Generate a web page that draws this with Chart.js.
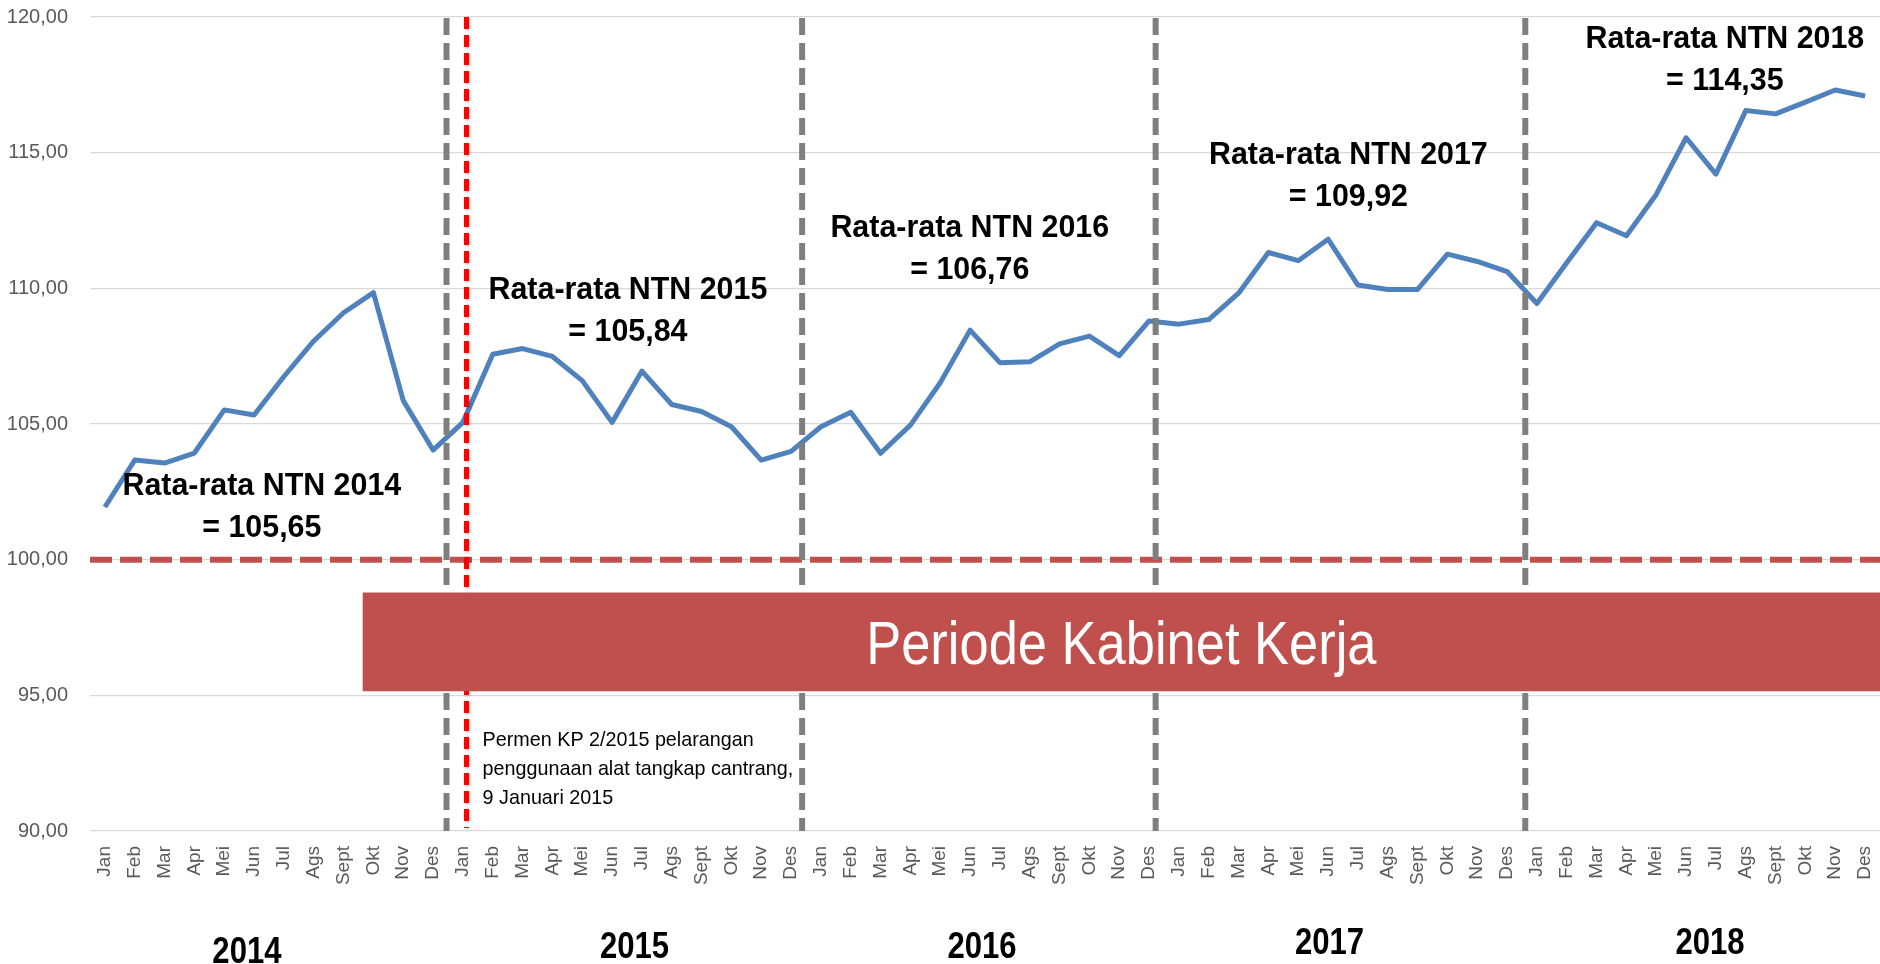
<!DOCTYPE html>
<html>
<head>
<meta charset="utf-8">
<script src="https://cdn.jsdelivr.net/npm/chart.js@4.4.1/dist/chart.umd.min.js"></script>
<style>
    body { margin: 0; background: #fff; }
    #wrap { width: 1880px; height: 964px; position: relative; }
</style>
</head>
<body>
<div id="wrap"><canvas id="ntnChart"></canvas></div>
<script>
// bulan (sumbu x) dan nilai NTN per tahun
var bulan = ["Jan", "Feb", "Mar", "Apr", "Mei", "Jun", "Jul", "Ags", "Sept", "Okt", "Nov", "Des"];
var tahun = ["2014", "2015", "2016", "2017", "2018"];

var ntn2014 = [101.94, 103.67, 103.56, 103.93, 105.52, 105.33, 106.75, 108.06, 109.10, 109.84, 105.86, 104.04];
var ntn2015 = [105.06, 107.57, 107.78, 107.49, 106.60, 105.06, 106.95, 105.72, 105.46, 104.90, 103.67, 103.99];
var ntn2016 = [104.90, 105.43, 103.92, 104.96, 106.52, 108.46, 107.26, 107.29, 107.95, 108.24, 107.52, 108.80];
var ntn2017 = [108.68, 108.85, 109.82, 111.32, 111.02, 111.81, 110.12, 109.96, 109.96, 111.26, 110.99, 110.62];
var ntn2018 = [109.44, 110.94, 112.42, 111.94, 113.46, 115.55, 114.21, 116.55, 116.43, 116.86, 117.31, 117.09];

var rataRata = ["105,65", "105,84", "106,76", "109,92", "114,35"];

var yTicks = { min: 90, max: 120, step: 5 };
var garisAcuan = 100;
var labelPeriode = "Periode Kabinet Kerja";
var catatanPermen = ["Permen KP 2/2015 pelarangan", "penggunaan alat tangkap cantrang,", "9 Januari 2015"];

var labels = [];
var dataNTN = [];
[ntn2014, ntn2015, ntn2016, ntn2017, ntn2018].forEach(function (arr) {
    for (let index = 0; index < arr.length; index++) {
        labels.push(bulan[index]);
        dataNTN.push(arr[index]);
    }
});

// posisi hiasan (indeks bulan pecahan / nilai y)
var layout = {
    garisTahun: [11.45, 23.37, 35.22, 47.61],
    garisPermen: 12.12,
    avgX: [5.26, 17.53, 28.99, 41.68, 54.3],
    avgY: [102.37, 109.62, 111.89, 114.59, 118.84],
    tahunX: [4.76, 17.75, 29.4, 41.05, 53.8],
    tahunDy: [132, 127, 127, 123, 123],
    kotak: { x: 8.64, top: 98.79, bottom: 95.15 },
    permen: { x: 12.66, y: 93.13, gap: 29 }
};

function teks(ctx, str, x, y, font, color, hscale, align) {
    ctx.save();
    ctx.font = font;
    ctx.fillStyle = color;
    ctx.textAlign = align || 'center';
    ctx.textBaseline = 'alphabetic';
    ctx.translate(x, y);
    ctx.scale(hscale, 1);
    ctx.fillText(str, 0, 0);
    ctx.restore();
}

var hiasanPlugin = {
    id: 'hiasan',
    afterDatasetsDraw: function (chart) {
        var ctx = chart.ctx;
        var xs = chart.scales.x, ys = chart.scales.y;
        var area = chart.chartArea;

        // garis acuan 100
        ctx.save();
        ctx.strokeStyle = '#c0504d';
        ctx.lineWidth = 6;
        ctx.setLineDash([22, 8]);
        var y100 = ys.getPixelForValue(garisAcuan);
        ctx.beginPath();
        ctx.moveTo(area.left, y100);
        ctx.lineTo(area.right, y100);
        ctx.stroke();
        ctx.restore();

        // garis pemisah tahun
        ctx.save();
        ctx.strokeStyle = '#7f7f7f';
        ctx.lineWidth = 6;
        ctx.setLineDash([17, 8]);
        layout.garisTahun.forEach(function (v) {
            var x = xs.getPixelForValue(v);
            ctx.beginPath();
            ctx.moveTo(x, area.top + 1);
            ctx.lineTo(x, area.bottom);
            ctx.stroke();
        });
        ctx.restore();

        // garis permen
        ctx.save();
        ctx.strokeStyle = '#ff0000';
        ctx.lineWidth = 5;
        ctx.setLineDash([12, 6]);
        ctx.shadowColor = 'rgba(0,0,0,0.3)';
        ctx.shadowBlur = 3;
        ctx.shadowOffsetX = 1;
        ctx.shadowOffsetY = 1;
        var xp = xs.getPixelForValue(layout.garisPermen);
        ctx.beginPath();
        ctx.moveTo(xp, area.top);
        ctx.lineTo(xp, area.bottom - 3);
        ctx.stroke();
        ctx.restore();

        // kotak periode kabinet kerja
        var kx = xs.getPixelForValue(layout.kotak.x);
        var kt = ys.getPixelForValue(layout.kotak.top);
        var kb = ys.getPixelForValue(layout.kotak.bottom);
        ctx.save();
        ctx.fillStyle = '#c0504d';
        ctx.fillRect(kx, kt, area.right - kx, kb - kt);
        ctx.restore();
        teks(ctx, labelPeriode, (kx + area.right) / 2, (kt + kb) / 2 + 22, '62px "Liberation Sans", Arial, sans-serif', '#ffffff', 0.846);

        // rata-rata per tahun
        tahun.forEach(function (th, i) {
            var x = xs.getPixelForValue(layout.avgX[i]);
            var y = ys.getPixelForValue(layout.avgY[i]);
            teks(ctx, 'Rata-rata NTN ' + th, x, y, 'bold 32px "Liberation Sans", Arial, sans-serif', '#000', 0.95);
            teks(ctx, '= ' + rataRata[i], x, y + 42, 'bold 32px "Liberation Sans", Arial, sans-serif', '#000', 0.95);
        });

        // catatan permen
        var px = xs.getPixelForValue(layout.permen.x);
        var py = ys.getPixelForValue(layout.permen.y);
        catatanPermen.forEach(function (baris, i) {
            teks(ctx, baris, px, py + i * layout.permen.gap, '21px "Liberation Sans", Arial, sans-serif', '#000', 0.94, 'left');
        });

        // label tahun di bawah sumbu
        tahun.forEach(function (th, i) {
            var x = xs.getPixelForValue(layout.tahunX[i]);
            teks(ctx, th, x, area.bottom + layout.tahunDy[i], 'bold 37px "Liberation Sans", Arial, sans-serif', '#000', 0.84);
        });
    }
};

Chart.defaults.font.family = '"Liberation Sans", Arial, sans-serif';

var ctx = document.getElementById('ntnChart').getContext('2d');
var myChart = new Chart(ctx, {
    type: 'line',
    data: {
        labels: labels,
        datasets: [{
            label: 'NTN',
            data: dataNTN,
            borderColor: '#4f81bd',
            backgroundColor: '#4f81bd',
            borderWidth: 5,
            pointRadius: 0,
            tension: 0,
            borderJoinStyle: 'round'
        }]
    },
    options: {
        responsive: true,
        maintainAspectRatio: false,
        animation: false,
        layout: { padding: { top: 17, right: 0, left: 0, bottom: 0 } },
        plugins: {
            legend: { display: false },
            tooltip: { enabled: false }
        },
        scales: {
            x: {
                type: 'category',
                offset: true,
                grid: { display: false, drawTicks: false },
                border: { display: false },
                ticks: {
                    autoSkip: false,
                    maxRotation: 90,
                    minRotation: 90,
                    padding: 15,
                    color: '#595959',
                    font: { size: 19 }
                },
                afterFit: function (scale) {
                    scale.height = 133;
                    scale.paddingLeft = 0;
                    scale.paddingRight = 0;
                }
            },
            y: {
                min: yTicks.min,
                max: yTicks.max,
                grid: { color: '#d9d9d9', lineWidth: 1.3, drawTicks: false },
                border: { display: false },
                ticks: {
                    stepSize: yTicks.step,
                    padding: 22,
                    color: '#595959',
                    font: { size: 20 },
                    callback: function (v) { return v.toFixed(2).replace('.', ','); }
                },
                afterFit: function (scale) {
                    scale.width = 90;
                    scale.paddingTop = 0;
                    scale.paddingBottom = 0;
                }
            }
        }
    },
    plugins: [hiasanPlugin]
});
</script>
</body>
</html>
